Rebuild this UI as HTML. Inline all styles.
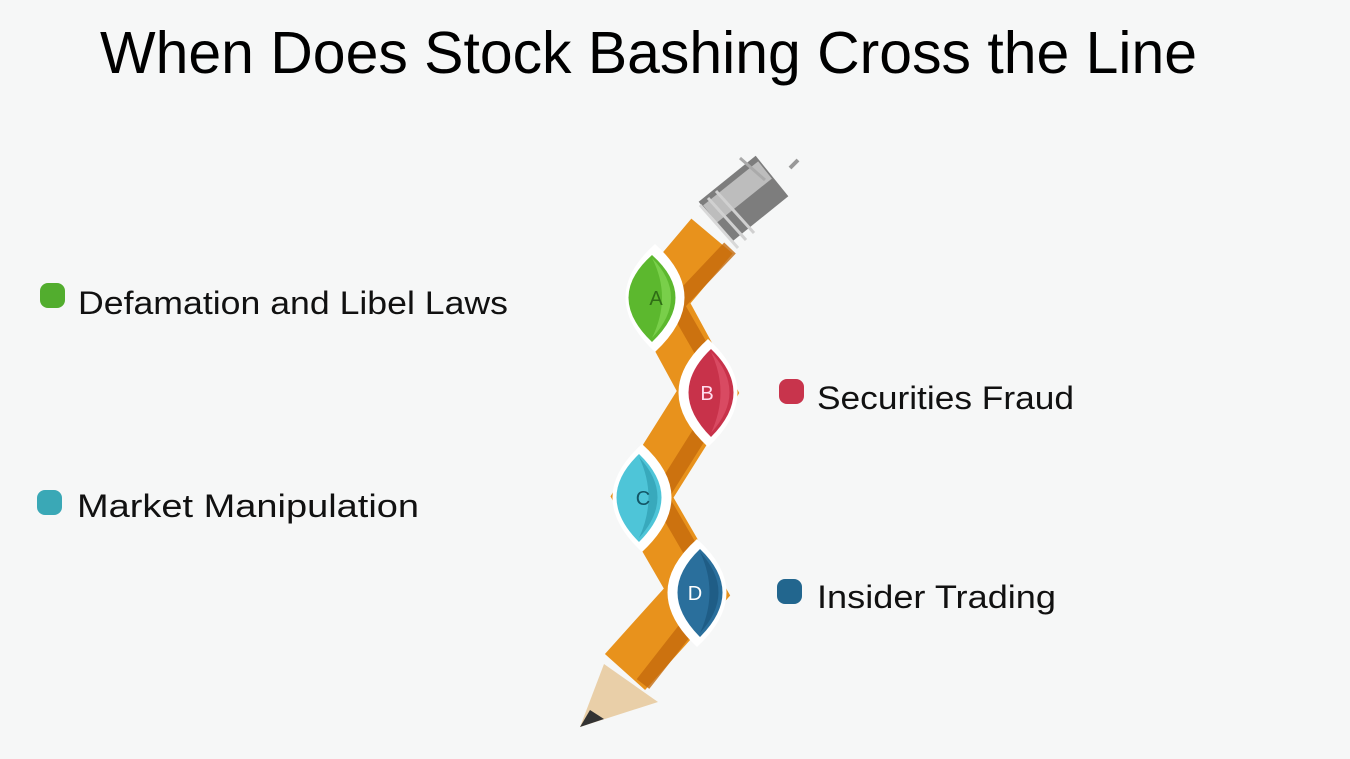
<!DOCTYPE html>
<html><head><meta charset="utf-8"><style>
html,body{margin:0;padding:0;background:#f6f7f7;}
svg{display:block;}
text{font-family:"Liberation Sans",sans-serif;}
</style></head><body>
<svg width="1350" height="759" viewBox="0 0 1350 759">
<rect width="1350" height="759" fill="#f6f7f7"/>
<text x="100" y="73" font-size="59" fill="#000" textLength="1097" lengthAdjust="spacingAndGlyphs">When Does Stock Bashing Cross the Line</text>

<g>
  <g>
    <line x1="715" y1="222" x2="772" y2="176" stroke="#7d7d7d" stroke-width="52"/>
    <line x1="710" y1="214" x2="765" y2="170" stroke="#bdbdbd" stroke-width="22"/>
    <line x1="700" y1="205" x2="738" y2="248" stroke="#d8d8d8" stroke-width="3"/>
    <line x1="708" y1="198" x2="746" y2="240" stroke="#d0d0d0" stroke-width="3"/>
    <line x1="716" y1="191" x2="754" y2="233" stroke="#d0d0d0" stroke-width="3"/>
    <line x1="740" y1="158" x2="765" y2="180" stroke="#aaa" stroke-width="3"/>
    <line x1="790" y1="168" x2="798" y2="160" stroke="#999" stroke-width="4"/>
  </g>
  <polyline points="712,236 658,300 708,392 642,497 697,592 625,672" fill="none" stroke="#e8921c" stroke-width="54" stroke-linejoin="miter"/>
  <polyline points="730,248 676,305 726,392 660,497 715,592 643,684" fill="none" stroke="#c46a0c" stroke-width="16" stroke-linejoin="miter" opacity="0.8"/>
  <polygon points="604,664 658,702 580,727" fill="#e9cfa8"/>
  <polygon points="590,710 604,719 580,727" fill="#333"/>
  <g>
    <path d="M655,244 Q714,297 655,352 Q596,297 655,244Z" fill="#fff"/>
    <path d="M652,255 Q699,297 652,342 Q605,297 652,255Z" fill="#5cb82e"/>
    <path d="M652,258 Q690,297 652,338 Q672,297 652,258Z" fill="#79cf4a"/>
    <text x="656" y="305" font-size="20" fill="#2f6d16" text-anchor="middle">A</text>
  </g>
  <g>
    <path d="M708,339 Q767,392 708,447 Q649,392 708,339Z" fill="#fff"/>
    <path d="M711,349 Q756,392 711,437 Q666,392 711,349Z" fill="#c8324a"/>
    <path d="M711,352 Q748,392 711,433 Q730,392 711,352Z" fill="#d94a62"/>
    <text x="707" y="400" font-size="20" fill="#fde" text-anchor="middle">B</text>
  </g>
  <g>
    <path d="M642,444 Q701,497 642,552 Q583,497 642,444Z" fill="#fff"/>
    <path d="M639,454 Q684,497 639,542 Q594,497 639,454Z" fill="#4ec5d8"/>
    <path d="M639,457 Q676,497 639,538 Q658,497 639,457Z" fill="#38a9bc"/>
    <text x="643" y="505" font-size="20" fill="#135565" text-anchor="middle">C</text>
  </g>
  <g>
    <path d="M697,539 Q756,592 697,647 Q638,592 697,539Z" fill="#fff"/>
    <path d="M700,549 Q745,592 700,637 Q655,592 700,549Z" fill="#2a6f9c"/>
    <path d="M700,552 Q737,592 700,633 Q719,592 700,552Z" fill="#1f5d86"/>
    <text x="695" y="600" font-size="20" fill="#fff" text-anchor="middle">D</text>
  </g>
</g>

<g>
  <rect x="40" y="283" width="25" height="25" rx="8" fill="#52ad2e"/>
  <text x="78" y="314" font-size="32" fill="#111" textLength="430" lengthAdjust="spacingAndGlyphs">Defamation and Libel Laws</text>
</g>
<g>
  <rect x="779" y="379" width="25" height="25" rx="8" fill="#c8344c"/>
  <text x="817" y="409" font-size="32" fill="#111" textLength="257" lengthAdjust="spacingAndGlyphs">Securities Fraud</text>
</g>
<g>
  <rect x="37" y="490" width="25" height="25" rx="8" fill="#3aa8b6"/>
  <text x="77" y="517" font-size="32" fill="#111" textLength="342" lengthAdjust="spacingAndGlyphs">Market Manipulation</text>
</g>
<g>
  <rect x="777" y="579" width="25" height="25" rx="8" fill="#22668e"/>
  <text x="817" y="608" font-size="32" fill="#111" textLength="239" lengthAdjust="spacingAndGlyphs">Insider Trading</text>
</g>
</svg>
</body></html>
